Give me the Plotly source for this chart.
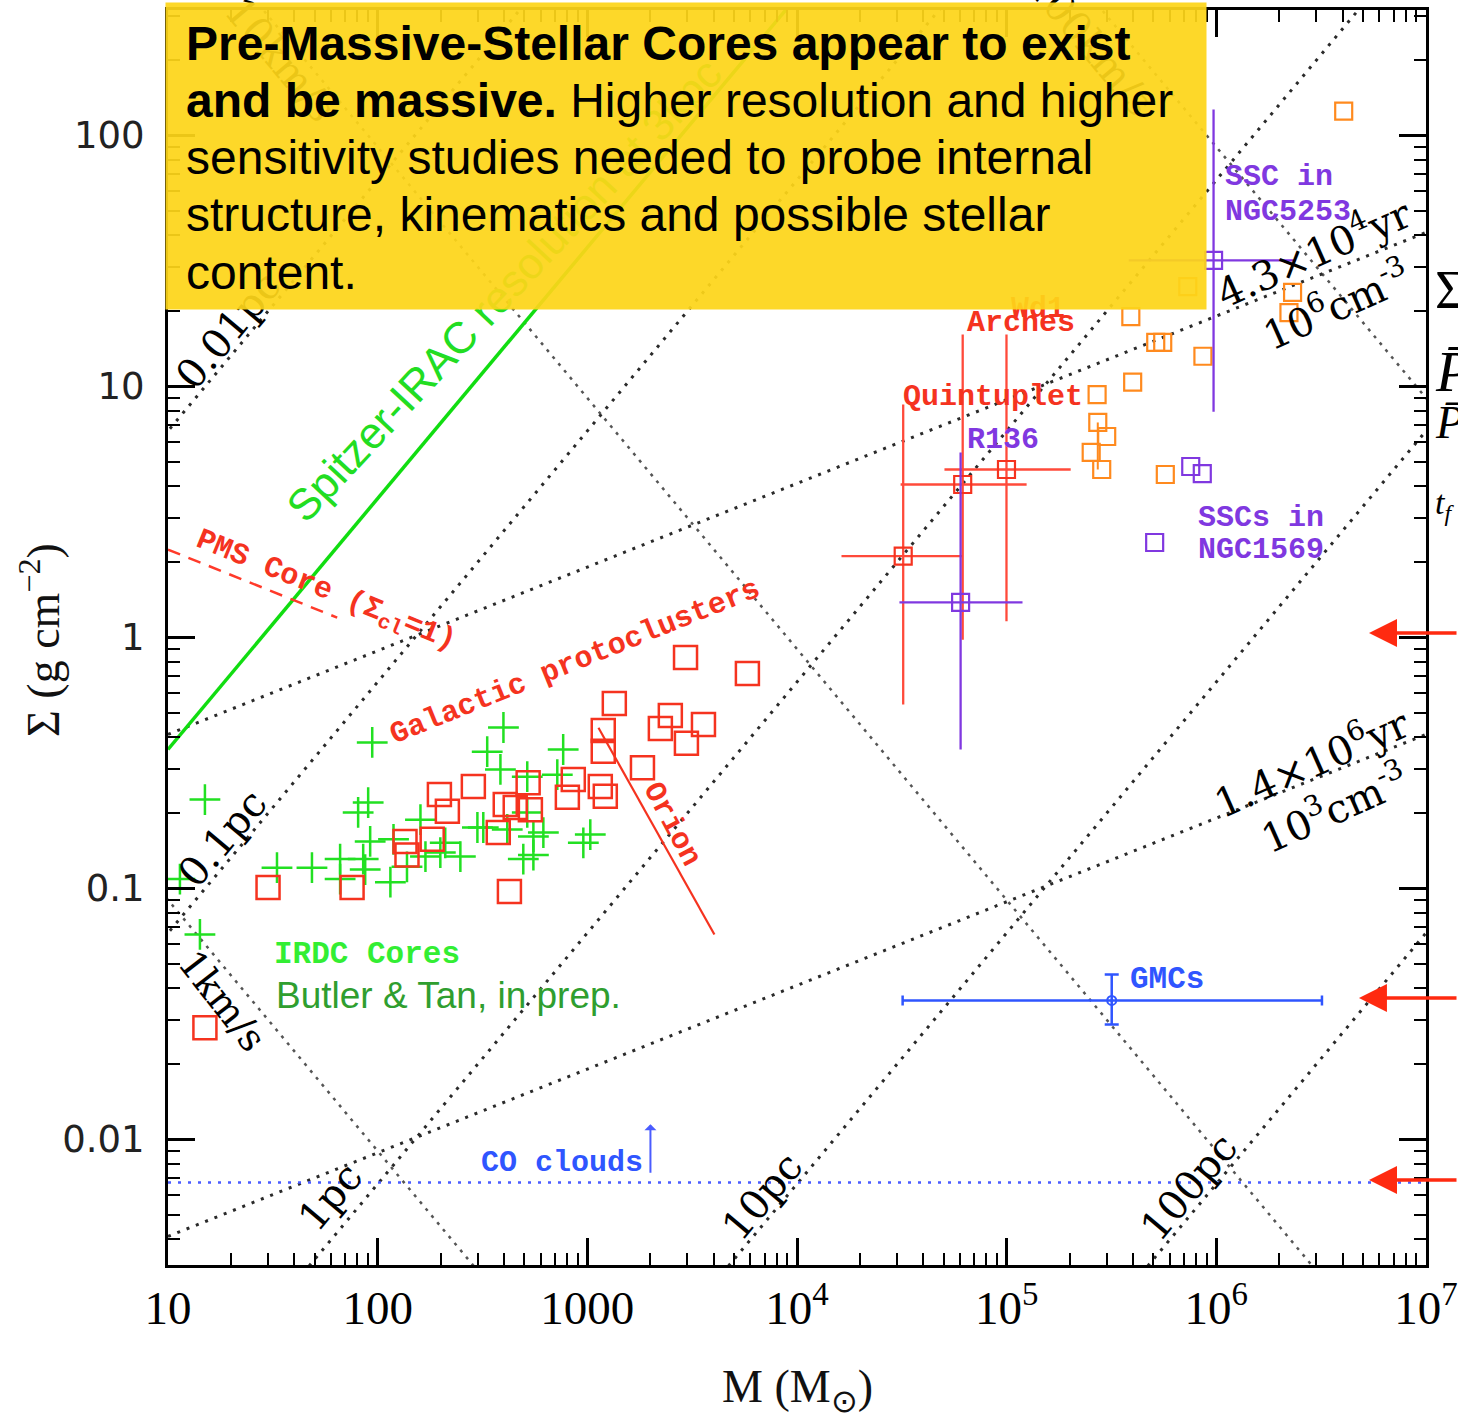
import numpy as np
import plotly.graph_objects as go

# ---------------- data ----------------
# IRDC cores (green crosses): mass [Msun], surface density [g cm^-2]
irdc_M = [15.0, 11.4, 14.2, 33.1, 48.6, 66.2, 66.2, 85.3, 87.2, 80.7, 90.1, 94.2,
          92.1, 115, 119, 138, 160, 169, 199, 210, 248, 299, 319, 398, 333, 385,
          517, 415, 517, 553, 617, 553, 495, 767, 719, 1033, 957]
irdc_S = [0.226, 0.109, 0.0656, 0.121, 0.121, 0.131, 0.109, 0.131, 0.119, 0.201, 0.220, 0.382,
          0.154, 0.106, 0.157, 0.122, 0.188, 0.134, 0.139, 0.152, 0.134, 0.175, 0.175, 0.438, 0.351, 0.298,
          0.279, 0.172, 0.201, 0.161, 0.167, 0.136, 0.131, 0.358, 0.284, 0.164, 0.152]

# Galactic protoclusters (red open squares)
proto_M = [30.0, 75.5, 425, 135, 138, 182, 197, 286, 215, 406, 453, 522, 535, 376, 803,
           857, 1153, 1218, 1191, 1191, 1345, 1832, 2230, 2488, 2969, 3580, 2940, 5800, 15.0]
proto_S = [0.101, 0.101, 0.0973, 0.154, 0.136, 0.157, 0.237, 0.255, 0.203, 0.216, 0.210, 0.264, 0.206, 0.167, 0.231,
           0.272, 0.255, 0.233, 0.426, 0.352, 0.546, 0.303, 0.434, 0.489, 0.379, 0.450, 0.832, 0.719, 0.0279]

# Galactic massive clusters with error ranges (red)
gal_M = [3.21e4, 6.17e4, 9.98e4]
gal_S = [2.11, 4.07, 4.67]
gal_Mlo = [1.63e4, 3.12e4, 5.05e4]
gal_Mhi = [6.17e4, 1.245e5, 2.02e5]
gal_Slo = [0.541, 0.98, 1.16]
gal_Shi = [8.48, 16.1, 16.1]

# R136 and SSC in NGC5253 (purple, with error ranges)
ssc_M = [6.03e4, 9.7e5]
ssc_S = [1.38, 31.8]
ssc_Mlo = [3.08e4, 3.82e5]
ssc_Mhi = [1.19e5, 2.40e6]
ssc_Slo = [0.358, 7.94]
ssc_Shi = [5.46, 127]

# SSCs in NGC1569 (purple small squares)
n1569_M = [7.55e5, 8.57e5, 5.08e5]
n1569_S = [4.80, 4.50, 2.39]

# extragalactic clusters (orange squares)
orange_M = [4.05e6, 7.31e5, 2.31e6, 2.22e6, 3.91e5, 5.14e5, 5.55e5, 8.63e5, 3.99e5,
            2.70e5, 2.72e5, 3.00e5, 2.53e5, 2.84e5, 5.71e5]
orange_S = [125, 25.0, 23.7, 19.7, 19.0, 15.0, 15.0, 13.2, 10.4,
            9.29, 7.19, 6.32, 5.46, 4.67, 4.46]
orange_bar_M = [2.72e5, 2.72e5]
orange_bar_S = [7.19, 4.67]

# GMCs
gmc_M, gmc_S = [3.17e5], [0.0358]
gmc_Mlo, gmc_Mhi = [3.19e4], [3.19e6]
gmc_Slo, gmc_Shi = [0.0287], [0.0454]

# reference lines: two end points each (M, Sigma)
radius_lines_M = {"0.01pc": [1, 1e4], "0.1pc": [1, 1e5], "1pc": [10, 1e7], "10pc": [1e3, 1e7], "100pc": [1e5, 1e7]}
radius_lines_S = {"0.01pc": [0.665, 6650], "0.1pc": [0.00665, 665], "1pc": [6.65e-4, 665],
                  "10pc": [6.65e-4, 6.65], "100pc": [6.65e-4, 0.0665]}
sigma_lines_M = {"1km/s": [1, 1e4], "10km/s": [1, 1e7], "100km/s": [1e4, 1e8]}
sigma_lines_S = {"1km/s": [0.9, 9e-5], "10km/s": [9000, 9e-4], "100km/s": [9000, 0.9]}
dens_lines_M = {"1e3": [10, 1e7], "1e6": [10, 1e7]}
dens_lines_S = {"1e3": [0.00411, 0.411], "1e6": [0.411, 41.1]}
spitzer_M, spitzer_S = [10, 1e4], [0.358, 358]
pms_M, pms_S = [10, 64.1], [2.24, 1.20]
orion_M, orion_S = [1130, 4037], [0.437, 0.0656]
co_M, co_S = [10, 1e7], [0.00674, 0.00674]

# axis ticks
x_major = [10, 100, 1000, 1e4, 1e5, 1e6, 1e7]
x_ticktext = ["10", "100", "1000", "10<sup>4</sup>", "10<sup>5</sup>", "10<sup>6</sup>", "10<sup>7</sup>"]
y_major = [0.01, 0.1, 1, 10, 100]
y_ticktext = ["0.01", "0.1", "1", "10", "100"]
x_minor = [k * 10 ** d for d in range(1, 7) for k in range(2, 10)]
y_minor = [k * 10.0 ** d for d in range(-3, 3) for k in range(2, 10)]

# ---------------- colours ----------------
RED = "#f5331f"
GREEN = "#22e022"
ORANGE = "#ff8a1e"
PURPLE = "#8038e0"
BLUE = "#2f55ff"
DOT = "#2a2a2a"

fig = go.Figure()

def add_line(M, S, color, width=3, dash="3px,7px"):
    fig.add_trace(go.Scatter(x=M, y=S, mode="lines", line=dict(color=color, width=width, dash=dash),
                             hoverinfo="skip"))

for k in radius_lines_M:
    add_line(radius_lines_M[k], radius_lines_S[k], DOT)
for k in sigma_lines_M:
    add_line(sigma_lines_M[k], sigma_lines_S[k], "#555555", width=2.5, dash="3px,6px")
for k in dens_lines_M:
    add_line(dens_lines_M[k], dens_lines_S[k], DOT)
add_line(co_M, co_S, "#4a5cff", width=2.5, dash="3px,7px")
add_line(spitzer_M, spitzer_S, "#11dd11", width=3.5, dash="solid")
add_line(pms_M, pms_S, "#ff3a2a", width=2.5, dash="13px,9px")
add_line(orion_M, orion_S, RED, width=2.2, dash="solid")
add_line(orange_bar_M, orange_bar_S, ORANGE, width=2, dash="solid")

# data markers
fig.add_trace(go.Scatter(x=irdc_M, y=irdc_S, mode="markers",
                         marker=dict(symbol="cross-thin", size=22, line=dict(color=GREEN, width=2.5))))
fig.add_trace(go.Scatter(x=proto_M, y=proto_S, mode="markers",
                         marker=dict(symbol="square-open", size=23, color=RED, line=dict(width=2.5))))
fig.add_trace(go.Scatter(x=orange_M, y=orange_S, mode="markers",
                         marker=dict(symbol="square-open", size=17, color=ORANGE, line=dict(width=2.2))))
fig.add_trace(go.Scatter(x=n1569_M, y=n1569_S, mode="markers",
                         marker=dict(symbol="square-open", size=17, color=PURPLE, line=dict(width=2.2))))

def err(vals, lo, hi):
    plus = [h - v for v, h in zip(vals, hi)]
    minus = [v - l for v, l in zip(vals, lo)]
    return plus, minus

px_, mx_ = err(gal_M, gal_Mlo, gal_Mhi)
py_, my_ = err(gal_S, gal_Slo, gal_Shi)
fig.add_trace(go.Scatter(x=gal_M, y=gal_S, mode="markers",
                         marker=dict(symbol="square-open", size=17, color=RED, line=dict(width=2.2)),
                         error_x=dict(type="data", symmetric=False, array=px_, arrayminus=mx_,
                                      color="#ff4a3a", thickness=2.3, width=0),
                         error_y=dict(type="data", symmetric=False, array=py_, arrayminus=my_,
                                      color="#ff4a3a", thickness=2.3, width=0)))
px_, mx_ = err(ssc_M, ssc_Mlo, ssc_Mhi)
py_, my_ = err(ssc_S, ssc_Slo, ssc_Shi)
fig.add_trace(go.Scatter(x=ssc_M, y=ssc_S, mode="markers",
                         marker=dict(symbol="square-open", size=17, color=PURPLE, line=dict(width=2.2)),
                         error_x=dict(type="data", symmetric=False, array=px_, arrayminus=mx_,
                                      color=PURPLE, thickness=2.3, width=0),
                         error_y=dict(type="data", symmetric=False, array=py_, arrayminus=my_,
                                      color=PURPLE, thickness=2.3, width=0)))
px_, mx_ = err(gmc_M, gmc_Mlo, gmc_Mhi)
py_, my_ = err(gmc_S, gmc_Slo, gmc_Shi)
fig.add_trace(go.Scatter(x=gmc_M, y=gmc_S, mode="markers",
                         marker=dict(symbol="circle-open-dot", size=9, color=BLUE, line=dict(width=2)),
                         error_x=dict(type="data", symmetric=False, array=px_, arrayminus=mx_,
                                      color=BLUE, thickness=2.5, width=5),
                         error_y=dict(type="data", symmetric=False, array=py_, arrayminus=my_,
                                      color=BLUE, thickness=2.5, width=7)))

# ---------------- annotations ----------------
ann = []

def lab(text, lm, ls, color="black", size=30, family="Liberation Mono", angle=0, xanchor="center",
        weight="bold"):
    ann.append(dict(x=lm, y=ls, xref="x", yref="y", text=text, showarrow=False, textangle=angle,
                    xanchor=xanchor, yanchor="middle",
                    font=dict(family=family, size=size, color=color, weight=weight)))

SER = "DejaVu Serif"
# labels drawn first (some lie partly under the yellow box)
lab("Spitzer-IRAC resolution at 3kpc", 2.604, 1.386, "#22dd22", 44, "Liberation Sans", -47, weight="normal")
lab("0.01pc", 1.286, 1.227, "black", 40, SER, -50, weight="normal")
lab("10km/s", 1.535, 2.303, "black", 40, SER, 50, weight="normal")
lab("100km/s", 5.401, 2.363, "black", 40, SER, 50, weight="normal")
lab("Wd1", 5.148, 1.310, RED, 30)
lab("0.1pc", 1.258, -0.797, "black", 40, SER, -50, weight="normal")
lab("1pc", 1.773, -2.231, "black", 40, SER, -50, weight="normal")
lab("10pc", 3.835, -2.227, "black", 40, SER, -50, weight="normal")
lab("100pc", 5.869, -2.191, "black", 40, SER, -50, weight="normal")
lab("1km/s", 1.258, -1.450, "black", 38, SER, 52, weight="normal")
lab("4.3×10<sup>4</sup>yr", 6.461, 1.538, "black", 40, SER, -24, weight="normal")
lab("10<sup>6</sup>cm<sup>-3</sup>", 6.570, 1.327, "black", 40, SER, -24, weight="normal")
lab("1.4×10<sup>6</sup>yr", 6.451, -0.494, "black", 40, SER, -24, weight="normal")
lab("10<sup>3</sup>cm<sup>-3</sup>", 6.561, -0.677, "black", 40, SER, -24, weight="normal")
lab("PMS Core (Σ<sub>cl</sub>=1)", 1.749, 0.183, RED, 30, angle=22)
lab("Galactic protoclusters", 2.943, -0.096, RED, 30, angle=-22)
lab("Orion", 3.406, -0.745, RED, 30, angle=62)
lab("IRDC Cores", 1.950, -1.263, "#33ee33", 31)
lab("Butler &amp; Tan, in prep.", 2.337, -1.426, "#2f9e2f", 37, "Liberation Sans", weight="normal")
lab("GMCs", 5.764, -1.363, BLUE, 31)
lab("CO clouds", 2.881, -2.092, BLUE, 30)
lab("Arches", 5.067, 1.255, RED, 30)
lab("Quintuplet", 4.933, 0.960, RED, 30)
lab("R136", 4.981, 0.785, PURPLE, 30)
lab("SSC in", 6.031, 1.833, PURPLE, 30, xanchor="left")
lab("NGC5253", 6.031, 1.697, PURPLE, 30, xanchor="left")
lab("SSCs in", 5.902, 0.478, PURPLE, 30, xanchor="left")
lab("NGC1569", 5.902, 0.347, PURPLE, 30, xanchor="left")

# CO clouds arrow
ann.append(dict(x=3.301, y=-1.939, xref="x", yref="y", ax=0, ay=50, showarrow=True,
                arrowhead=1, arrowsize=1, arrowwidth=2, arrowcolor="#4a5cff", text=""))

# yellow call-out box (drawn after the labels so it covers them)
ann.append(dict(x=-0.0024, y=1.0064, xref="paper", yref="paper", xanchor="left", yanchor="top",
                text="", showarrow=False, width=1040, height=306, borderpad=0,
                bgcolor="rgba(253,213,25,0.93)"))
box_lines = ["<b>Pre-Massive-Stellar Cores appear to exist</b>",
             "<b>and be massive.</b> Higher resolution and higher",
             "sensitivity studies needed to probe internal",
             "structure, kinematics and possible stellar",
             "content."]
box_y = [0.9737, 0.9275, 0.8821, 0.8367, 0.7912]
for t, yy in zip(box_lines, box_y):
    ann.append(dict(x=0.0127, y=yy, xref="paper", yref="paper", xanchor="left", yanchor="middle",
                    text=t, showarrow=False, font=dict(family="Liberation Sans", size=48, color="black")))

# axis titles
ann.append(dict(x=-0.1018, y=0.498, xref="paper", yref="paper", text="Σ (g cm<sup>−2</sup>)",
                xanchor="center", yanchor="middle",
                textangle=-90, showarrow=False, font=dict(family="Liberation Serif", size=46, color="#111")))
ann.append(dict(x=0.5004, y=-0.0996, xref="paper", yref="paper", text="M (M<sub>⊙</sub>)",
                xanchor="center", yanchor="middle",
                showarrow=False, font=dict(family="Liberation Serif", size=46, color="#111")))

# clipped text at right edge of slide
for t, yy, sz in [("Σ", 0.7769, 54), ("<i>P̄</i>", 0.7116, 58), ("<i>P̄</i>", 0.6717, 46),
                  ("<i>t<sub>f</sub></i>", 0.6056, 34)]:
    ann.append(dict(x=1.0056, y=yy, xref="paper", yref="paper", xanchor="left", yanchor="middle",
                    text=t, showarrow=False, font=dict(family="Liberation Serif", size=sz, color="black")))

# red arrows at right edge
for xh, yh in [(0.9547, 0.5036), (0.9467, 0.2127), (0.9547, 0.0677)]:
    ann.append(dict(x=xh, y=yh, xref="paper", yref="paper", ax=120, ay=0, showarrow=True,
                    arrowhead=2, arrowsize=1.6, arrowwidth=3.5, arrowcolor="#ff2a10", text=""))

fig.update_layout(
    width=1458, height=1418,
    margin=dict(l=168, r=32, t=10, b=153, pad=0, autoexpand=False),
    paper_bgcolor="white", plot_bgcolor="white",
    showlegend=False,
    annotations=ann,
    xaxis=dict(type="log", range=[1, 7], showgrid=False, zeroline=False, automargin=False,
               showline=True, linecolor="black", linewidth=3, mirror="ticks",
               ticks="inside", ticklen=27, tickwidth=2.5, tickcolor="black",
               tickvals=x_major, ticktext=x_ticktext, ticklabelstandoff=0,
               tickfont=dict(family="Liberation Serif", size=47, color="black"),
               minor=dict(tickvals=x_minor, ticks="inside", ticklen=12, tickwidth=2, tickcolor="black")),
    yaxis=dict(type="log", range=[-2.5, 2.5], showgrid=False, zeroline=False, automargin=False,
               showline=True, linecolor="black", linewidth=3, mirror="ticks",
               ticks="inside", ticklen=27, tickwidth=2.5, tickcolor="black",
               tickvals=y_major, ticktext=y_ticktext, ticklabelstandoff=13,
               tickfont=dict(family="DejaVu Sans", size=37, color="#222"),
               minor=dict(tickvals=y_minor, ticks="inside", ticklen=12, tickwidth=2, tickcolor="black")),
)

fig.write_html("out.html")
